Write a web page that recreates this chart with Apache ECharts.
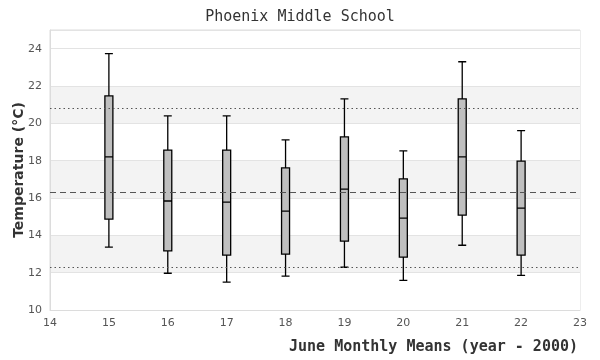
<!DOCTYPE html>
<html><head><meta charset="utf-8">
<script src="https://cdn.jsdelivr.net/npm/echarts@6/dist/echarts.min.js"></script>
<style>html,body{margin:0;padding:0;background:#fff}#c{width:600px;height:360px}</style>
</head><body><div id="c"></div>
<script>
// June monthly mean temperatures (year - 2000)
const years   = [15, 16, 17, 18, 19, 20, 21, 22];
const mins    = [13.37, 11.97, 11.49, 11.81, 12.29, 11.59, 13.47, 11.86];
const q1s     = [14.87, 13.17, 12.94, 12.99, 13.69, 12.83, 15.08, 12.94];
const medians = [18.20, 15.84, 15.78, 15.30, 16.48, 14.92, 18.20, 15.46];
const q3s     = [21.47, 18.57, 18.57, 17.61, 19.27, 17.02, 21.31, 17.98];
const maxs    = [23.73, 20.40, 20.40, 19.11, 21.31, 18.52, 23.30, 19.61];
// reference lines
const refMean  = 16.32;
const refUpper = 20.83;
const refLower = 12.29;
// axis ranges / ticks
const xRange = [14, 23];
const xStep = 1;
const yRange = [10, 25];
const yStep = 2;

const boxData = years.map((y, i) => [y, mins[i], q1s[i], medians[i], q3s[i], maxs[i]]);

const chart = echarts.init(document.getElementById('c'), null, {renderer: 'canvas'});
chart.setOption({
  animation: false,
  backgroundColor: '#fff',
  title: {
    text: 'Phoenix Middle School',
    left: 'center',
    top: 5,
    textStyle: {fontFamily: 'DejaVu Sans Mono', fontSize: 15, fontWeight: 'normal', color: '#333'}
  },
  grid: {left: 50, right: 20, top: 30, bottom: 50, show: true, borderColor: '#dcdcdc', borderWidth: 1, backgroundColor: 'transparent', outerBoundsMode: 'none', containLabel: false},
  xAxis: {
    type: 'value',
    min: xRange[0], max: xRange[1], interval: xStep,
    name: 'June Monthly Means (year - 2000)',
    nameLocation: 'end',
    nameGap: -2,
    nameMoveOverlap: false,
    nameTextStyle: {fontFamily: 'DejaVu Sans Mono', fontSize: 15, fontWeight: 'bold', color: '#333', align: 'right', verticalAlign: 'top', padding: [30, 0, 0, 0]},
    axisLine: {show: true, lineStyle: {color: '#dcdcdc'}},
    axisTick: {show: false},
    splitLine: {show: false},
    axisLabel: {fontFamily: 'DejaVu Sans', fontSize: 11, color: '#555', margin: 8}
  },
  yAxis: {
    type: 'value',
    min: yRange[0], max: yRange[1], interval: yStep,
    name: 'Temperature (°C)',
    nameLocation: 'middle',
    nameGap: 24,
    nameMoveOverlap: false,
    nameTextStyle: {fontFamily: 'DejaVu Sans', fontSize: 14, fontWeight: 'bold', color: '#333'},
    axisLine: {show: true, lineStyle: {color: '#dcdcdc'}},
    axisTick: {show: false},
    axisLabel: {fontFamily: 'DejaVu Sans', fontSize: 11, color: '#555', margin: 8, showMaxLabel: false},
    splitLine: {show: true, lineStyle: {color: '#e3e3e3'}},
    splitArea: {show: true, areaStyle: {color: ['#ffffff', '#f3f3f3', '#ffffff', '#f3f3f3', '#ffffff', '#f3f3f3', '#ffffff', '#ffffff']}}
  },
  series: [{
    type: 'boxplot',
    data: boxData,
    boxWidth: [8, 8],
    itemStyle: {color: '#bfbfbf', borderColor: '#000', borderWidth: 1.3},
    emphasis: {disabled: true},
    markLine: {
      silent: true,
      symbol: 'none',
      label: {show: false},
      data: [
        {yAxis: refUpper, lineStyle: {type: [1.5, 3], color: '#555', width: 1}},
        {yAxis: refMean, lineStyle: {type: [6, 4], color: '#555', width: 1}},
        {yAxis: refLower, lineStyle: {type: [1.5, 3], color: '#555', width: 1}}
      ]
    }
  }]
});
</script></body></html>
